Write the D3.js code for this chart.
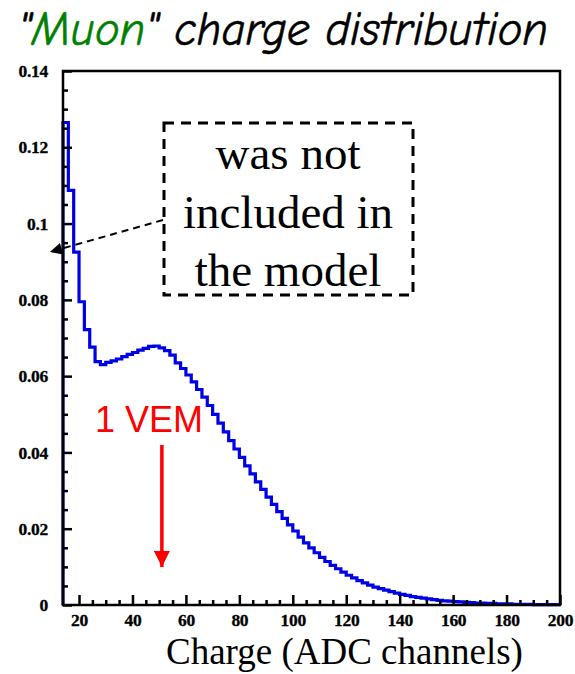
<!DOCTYPE html>
<html>
<head>
<meta charset="utf-8">
<script src="https://cdn.jsdelivr.net/npm/d3@7"></script>
<style>
  html, body { margin: 0; padding: 0; background: #fff; }
  svg { display: block; }
</style>
</head>
<body>
<svg id="chart" width="575" height="674"></svg>
<script>
// Histogram binning: 2 ADC channels per bin from 14 to 200
const binStart = 14;
const binWidth = 2;
// Normalised counts per bin
const counts = [
  0.1265, 0.1087, 0.0925, 0.0795, 0.0722, 0.0676, 0.0638, 0.0630, 0.0636, 0.0640,
  0.0645, 0.0651, 0.0657, 0.0662, 0.0668, 0.0673, 0.0678, 0.0679, 0.0674, 0.0667,
  0.0655, 0.0635, 0.0620, 0.0603, 0.0585, 0.0565, 0.0545, 0.0523, 0.0500, 0.0477,
  0.0454, 0.0431, 0.0409, 0.0387, 0.0365, 0.0344, 0.0323, 0.0303, 0.0283, 0.0264,
  0.0245, 0.0227, 0.0210, 0.0194, 0.0178, 0.0163, 0.0150, 0.0137, 0.0125, 0.0114,
  0.0104, 0.0095, 0.0086, 0.0078, 0.0071, 0.0064, 0.0058, 0.0052, 0.0047, 0.0043,
  0.0039, 0.0035, 0.0031, 0.0028, 0.0025, 0.0022, 0.0020, 0.0018, 0.0016, 0.0014,
  0.0012, 0.0011, 0.0010, 0.0009, 0.0008, 0.0007, 0.0006, 0.0005, 0.0005, 0.0004,
  0.0004, 0.0003, 0.0003, 0.0003, 0.0002, 0.0002, 0.0002, 0.0002, 0.0001, 0.0001,
  0.0001, 0.0001, 0.0001
];

const xDomain = [14, 200];
const yDomain = [0, 0.14];
const xMajorTicks = [20, 40, 60, 80, 100, 120, 140, 160, 180, 200];
const xTickLabels = ["20", "40", "60", "80", "100", "120", "140", "160", "180", "200"];
const yMajorTicks = [0, 0.02, 0.04, 0.06, 0.08, 0.1, 0.12, 0.14];
const yTickLabels = ["0", "0.02", "0.04", "0.06", "0.08", "0.1", "0.12", "0.14"];

// 1 VEM position (ADC channels) and annotation text
const vemCharge = 51;
const noteText = ["was not", "included in", "the model"];

const svg = d3.select("#chart");
const m = { left: 63, right: 560, top: 71, bottom: 605 };

const x = d3.scaleLinear().domain(xDomain).range([m.left, m.right]);
const y = d3.scaleLinear().domain(yDomain).range([m.bottom, m.top]);

// Title (stretched slightly upward from its baseline)
const title = svg.append("text")
  .attr("transform", "translate(18,45) scale(1,1.18)")
  .attr("font-family", "'Comic Sans MS', 'Comic Neue', 'DejaVu Sans', sans-serif")
  .attr("font-style", "italic")
  .attr("font-size", 41)
  .attr("textLength", 530)
  .attr("lengthAdjust", "spacingAndGlyphs")
  .attr("stroke", "#000").attr("stroke-width", 0.5)
  .attr("fill", "#000");
title.append("tspan").text("\"");
title.append("tspan").attr("fill", "#008000").attr("stroke", "#008000").text("Muon");
title.append("tspan").text("\" charge distribution");

// Histogram outline (step path)
const pts = [[x(binStart), y(0)]];
counts.forEach((v, i) => {
  const x0 = binStart + i * binWidth;
  pts.push([x(x0), y(v)]);
  pts.push([x(x0 + binWidth), y(v)]);
});
svg.append("path")
  .attr("d", d3.line()(pts))
  .attr("fill", "none")
  .attr("stroke", "#0000e6")
  .attr("stroke-width", 3.2)
  .attr("stroke-linejoin", "miter");

// Frame
svg.append("rect")
  .attr("x", m.left).attr("y", m.top)
  .attr("width", m.right - m.left).attr("height", m.bottom - m.top)
  .attr("fill", "none").attr("stroke", "#000").attr("stroke-width", 2.5);

// Y axis: major and minor ticks drawn inward
const yMinor = d3.range(0, 0.1401, 0.005).filter(v => !yMajorTicks.some(t => Math.abs(t - v) < 1e-9));
const yAxis = d3.axisLeft(y).tickValues(yMajorTicks).tickSize(-9).tickPadding(15)
  .tickFormat((d, i) => yTickLabels[i]);
const gy = svg.append("g").attr("transform", `translate(${m.left},0)`).call(yAxis);
svg.append("g").attr("transform", `translate(${m.left},0)`)
  .call(d3.axisLeft(y).tickValues(yMinor).tickSize(-5).tickFormat(""))
  .call(g => g.select(".domain").remove());

// X axis
const xMinor = d3.range(25, 200, 5).filter(v => v % 20 !== 0);
const xAxis = d3.axisBottom(x).tickValues(xMajorTicks).tickSize(-10).tickPadding(9)
  .tickFormat((d, i) => xTickLabels[i]);
const gx = svg.append("g").attr("transform", `translate(0,${m.bottom})`).call(xAxis);
svg.append("g").attr("transform", `translate(0,${m.bottom})`)
  .call(d3.axisBottom(x).tickValues(xMinor).tickSize(-5).tickFormat(""))
  .call(g => g.select(".domain").remove());

svg.selectAll(".domain").attr("stroke", "none");
svg.selectAll(".tick line").attr("stroke", "#000").attr("stroke-width", 2.5);
[gx, gy].forEach(g => g.selectAll("text")
  .attr("font-family", "'Liberation Serif', 'Times New Roman', serif")
  .attr("font-weight", "bold")
  .attr("font-size", 17.5)
  .attr("letter-spacing", -0.3)
  .attr("stroke", "#000").attr("stroke-width", 0.3)
  .attr("fill", "#000"));

// X axis title
svg.append("text")
  .attr("x", 166).attr("y", 664)
  .attr("font-family", "'Liberation Serif', 'Times New Roman', serif")
  .attr("font-size", 37)
  .attr("fill", "#000")
  .text("Charge (ADC channels)");

// Dashed annotation box
svg.append("rect")
  .attr("x", 164).attr("y", 123).attr("width", 249).attr("height", 172)
  .attr("fill", "none").attr("stroke", "#000").attr("stroke-width", 3)
  .attr("stroke-dasharray", "10,7");

svg.append("g").selectAll("text").data(noteText).join("text")
  .attr("x", 288).attr("y", (d, i) => 169 + i * 58.5)
  .attr("text-anchor", "middle")
  .attr("font-family", "'Liberation Serif', 'Times New Roman', serif")
  .attr("font-size", 47)
  .attr("fill", "#000")
  .text(d => d);

// Dashed pointer from the box to the low-charge peak
const defs = svg.append("defs");
defs.append("marker")
  .attr("id", "blackHead").attr("viewBox", "0 0 10 10")
  .attr("refX", 10).attr("refY", 5)
  .attr("markerWidth", 16).attr("markerHeight", 12)
  .attr("markerUnits", "userSpaceOnUse")
  .attr("orient", "auto")
  .append("path").attr("d", "M0,0 L10,5 L0,10 Z").attr("fill", "#000");
svg.append("line")
  .attr("x1", 163).attr("y1", 220).attr("x2", 50).attr("y2", 252)
  .attr("stroke", "#000").attr("stroke-width", 2)
  .attr("stroke-dasharray", "7,5")
  .attr("marker-end", "url(#blackHead)");

// 1 VEM marker
svg.append("text")
  .attr("x", 149).attr("y", 432)
  .attr("text-anchor", "middle")
  .attr("font-family", "'Liberation Sans', Arial, sans-serif")
  .attr("font-size", 36)
  .attr("fill", "#ff0000")
  .text("1 VEM");
defs.append("marker")
  .attr("id", "redHead").attr("viewBox", "0 0 10 10")
  .attr("refX", 10).attr("refY", 5)
  .attr("markerWidth", 16).attr("markerHeight", 16)
  .attr("markerUnits", "userSpaceOnUse")
  .attr("orient", "auto")
  .append("path").attr("d", "M0,0 L10,5 L0,10 Z").attr("fill", "#ff0000");
svg.append("line")
  .attr("x1", x(vemCharge)).attr("y1", 445)
  .attr("x2", x(vemCharge)).attr("y2", 567)
  .attr("stroke", "#ff0000").attr("stroke-width", 3.5)
  .attr("marker-end", "url(#redHead)");
</script>
</body>
</html>
